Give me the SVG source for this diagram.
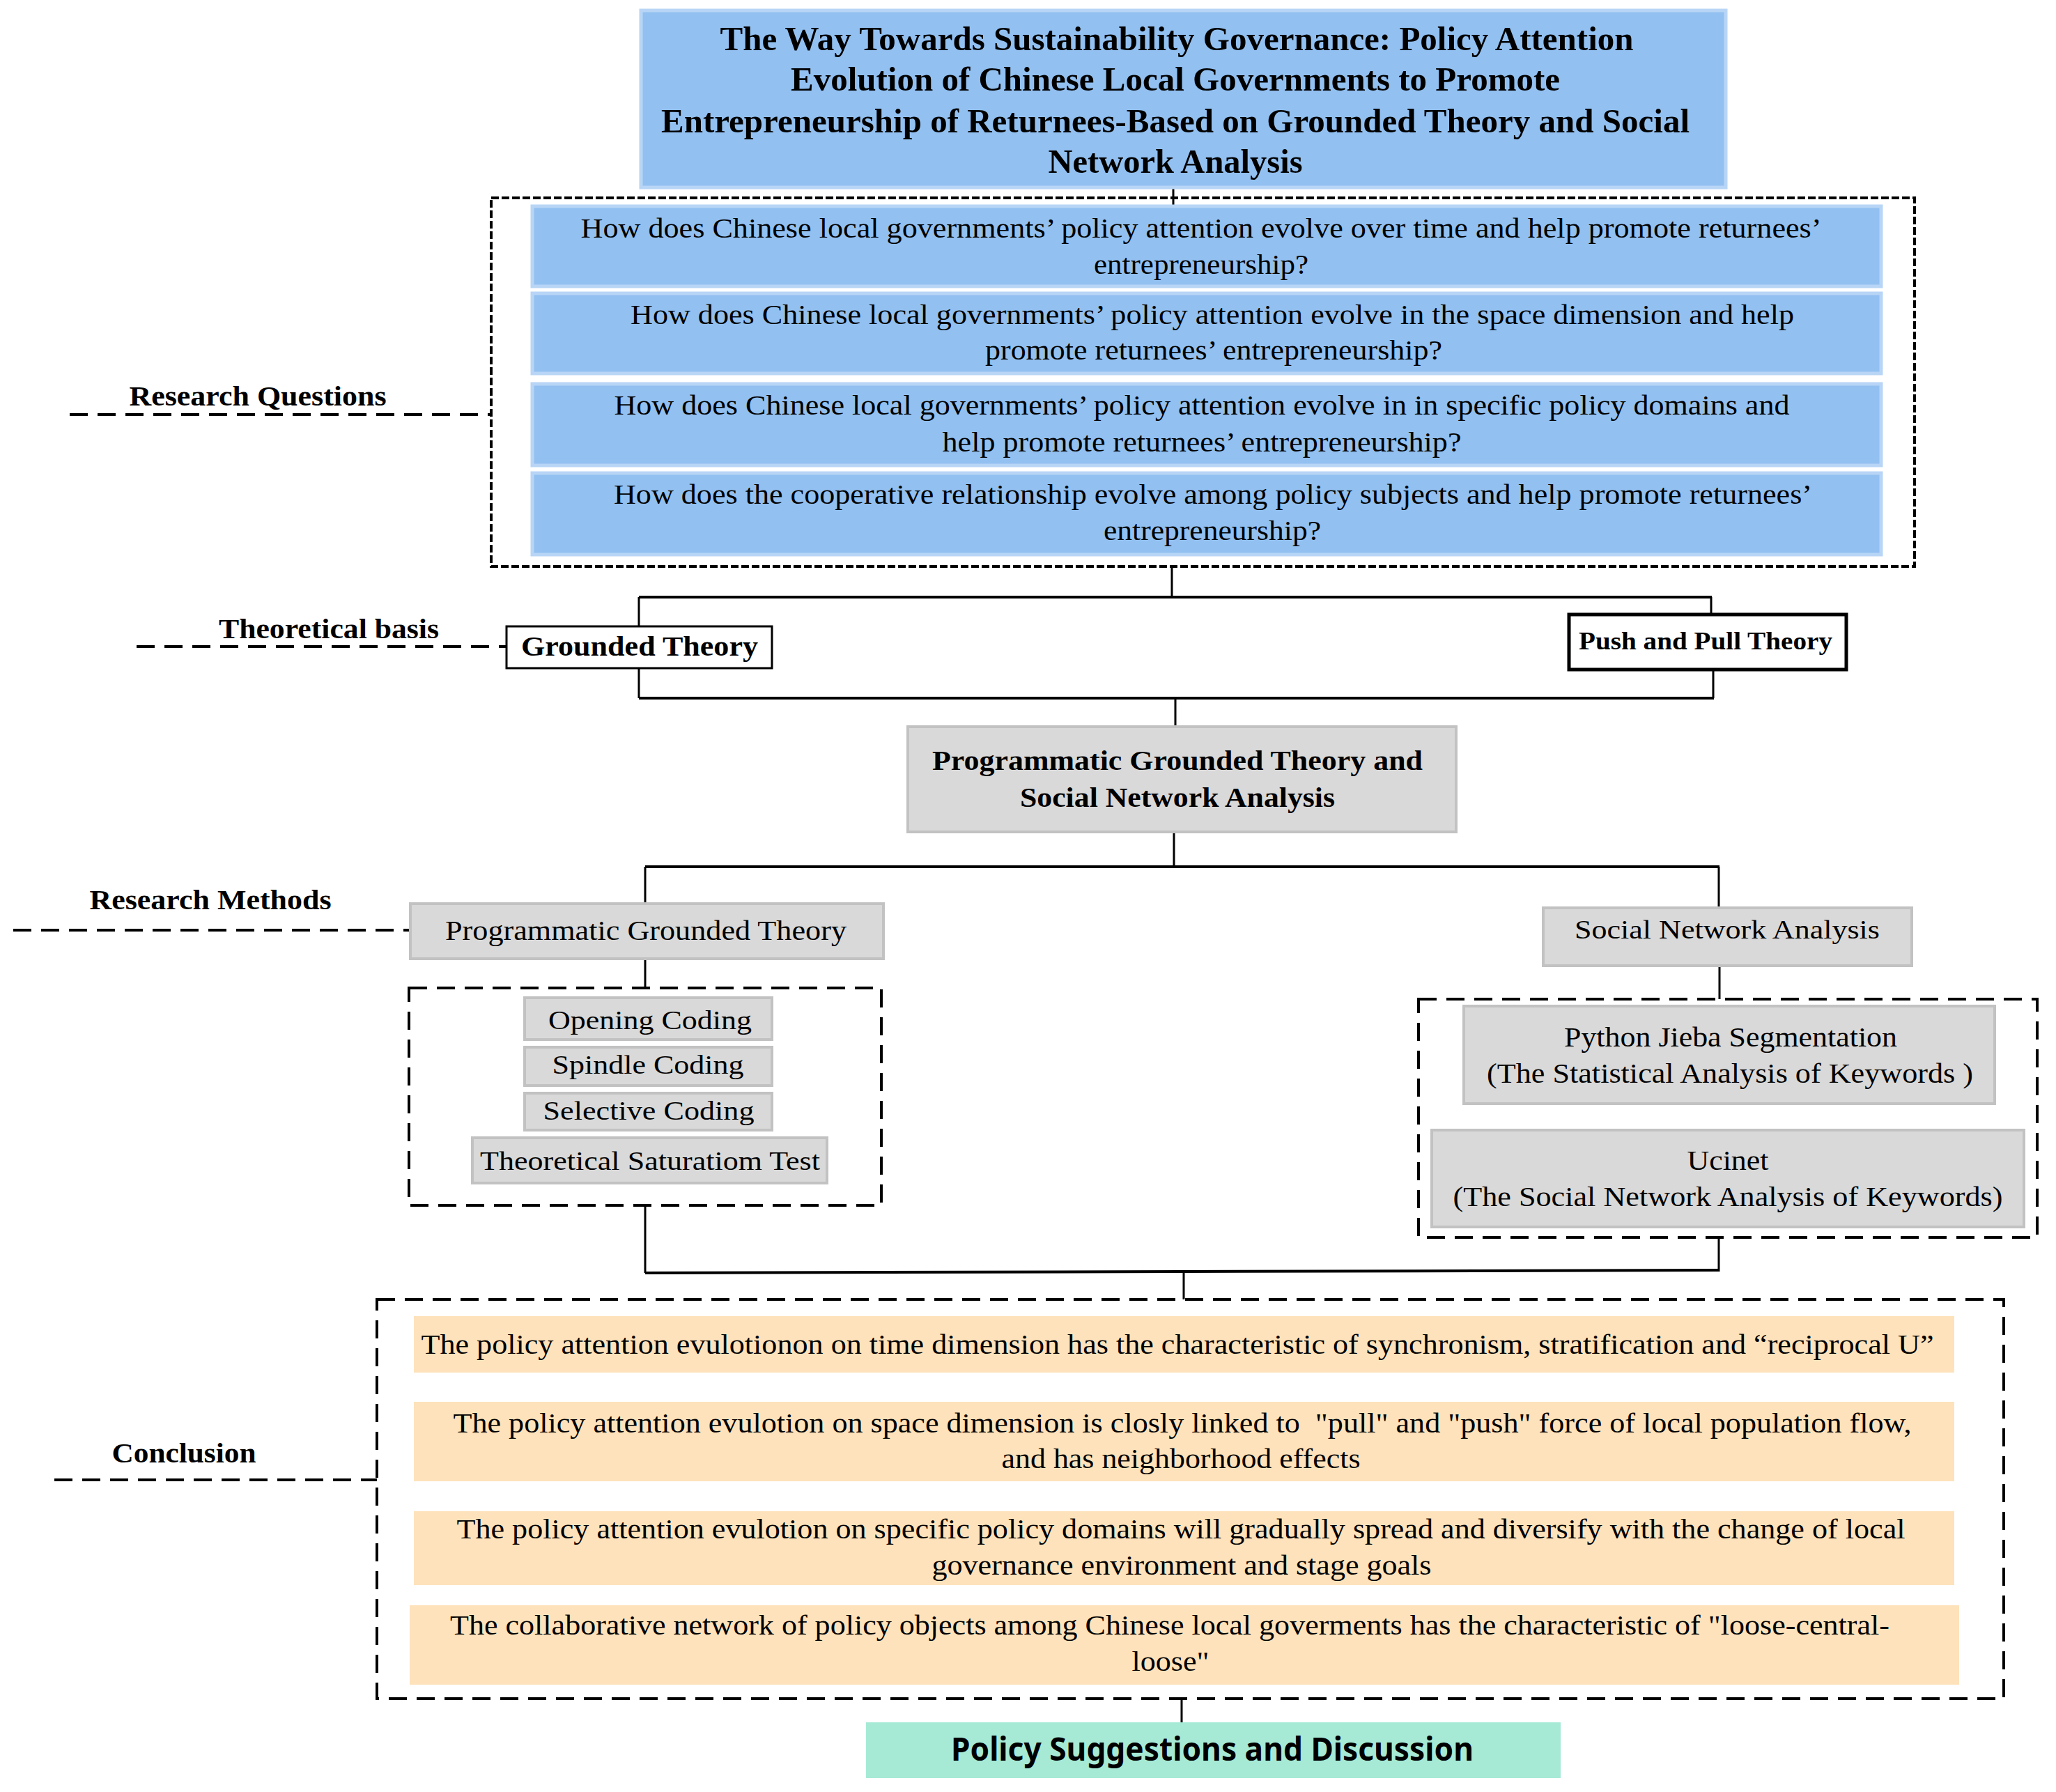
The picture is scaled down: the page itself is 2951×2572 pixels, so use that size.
<svg xmlns="http://www.w3.org/2000/svg" width="2951" height="2572" viewBox="0 0 2951 2572" font-family="'Liberation Serif', 'Times New Roman', serif">
<style>
  text { fill: #000; text-anchor: middle; }
  .b { font-weight: bold; }
  .t48 { font-size: 48px; }
  .t40 { font-size: 40px; }
  .t38 { font-size: 38px; }
  .t36 { font-size: 36px; }
  .t41 { font-size: 41px; }
  .sans { font-weight: bold; font-size: 46px; }
  .blue { fill: #92C0F1; stroke: #B8D5F6; stroke-width: 5; }
  .gray { fill: #D9D9D9; stroke: #C2C2C2; stroke-width: 4; }
  .white { fill: #FFFFFF; stroke: #000; }
  .peach { fill: #FEE2BB; }
  .green { fill: #A6EAD6; }
  .dbox { fill: none; stroke: #000; stroke-width: 4; stroke-dasharray: 26 14; }
  .dbox2 { fill: none; stroke: #000; stroke-width: 4; stroke-dasharray: 11 4; }
  .dline { fill: none; stroke: #000; stroke-width: 4; stroke-dasharray: 26 14; }
  .conn line { stroke: #000; stroke-width: 3; }
  .conn .h { stroke-width: 4; }
</style>

<g id="frames">
  <rect class="dbox2" x="705" y="284" width="2043" height="529"/>
  <rect class="dbox" x="587" y="1418" width="678" height="312"/>
  <rect class="dbox" x="2036" y="1434" width="888" height="342"/>
  <rect class="dbox" x="541" y="1865" width="2335" height="573"/>
</g>

<g id="labels">
  <g id="label-rq">
    <line class="dline" x1="100" y1="595" x2="705" y2="595"/>
    <text class="b t40" x="370" y="582" textLength="369" lengthAdjust="spacingAndGlyphs">Research Questions</text>
  </g>
  <g id="label-tb">
    <line class="dline" x1="196" y1="928" x2="727" y2="928"/>
    <text class="b t40" x="472" y="916" textLength="316" lengthAdjust="spacingAndGlyphs">Theoretical basis</text>
  </g>
  <g id="label-rm">
    <line class="dline" x1="19" y1="1335" x2="589" y2="1335"/>
    <text class="b t40" x="302" y="1305" textLength="347" lengthAdjust="spacingAndGlyphs">Research Methods</text>
  </g>
  <g id="label-c">
    <line class="dline" x1="78" y1="2124" x2="541" y2="2124"/>
    <text class="b t40" x="264" y="2099" textLength="207" lengthAdjust="spacingAndGlyphs">Conclusion</text>
  </g>
</g>

<g id="connectors" class="conn">
  <line x1="1684" y1="269" x2="1684" y2="296"/>
  <line x1="1682" y1="813" x2="1682" y2="857"/>
  <line class="h" x1="917" y1="857" x2="2457" y2="857"/>
  <line x1="917" y1="857" x2="917" y2="899"/>
  <line x1="2456" y1="857" x2="2456" y2="882"/>
  <line x1="917" y1="959" x2="917" y2="1002"/>
  <line x1="2459" y1="961" x2="2459" y2="1002"/>
  <line class="h" x1="917" y1="1002" x2="2460" y2="1002"/>
  <line x1="1687" y1="1002" x2="1687" y2="1043"/>
  <line x1="1685" y1="1194" x2="1685" y2="1244"/>
  <line class="h" x1="926" y1="1244" x2="2468" y2="1244"/>
  <line x1="926" y1="1244" x2="926" y2="1297"/>
  <line x1="2467" y1="1244" x2="2467" y2="1303"/>
  <line x1="926" y1="1376" x2="926" y2="1418"/>
  <line x1="2468" y1="1386" x2="2468" y2="1434"/>
  <line x1="926" y1="1730" x2="926" y2="1827"/>
  <line x1="2467" y1="1776" x2="2467" y2="1825"/>
  <line class="h" x1="926" y1="1827" x2="2468" y2="1823"/>
  <line x1="1699" y1="1826" x2="1699" y2="1865"/>
  <line x1="1696" y1="2438" x2="1696" y2="2472"/>
</g>

<g id="title">
  <rect class="blue" x="920" y="15" width="1557" height="254"/>
  <text class="b t48" x="1689" y="72" textLength="1311" lengthAdjust="spacingAndGlyphs">The Way Towards Sustainability Governance: Policy Attention</text>
  <text class="b t48" x="1687" y="130" textLength="1104" lengthAdjust="spacingAndGlyphs">Evolution of Chinese Local Governments to Promote</text>
  <text class="b t48" x="1687" y="190" textLength="1476" lengthAdjust="spacingAndGlyphs">Entrepreneurship of Returnees-Based on Grounded Theory and Social</text>
  <text class="b t48" x="1687" y="248" textLength="365" lengthAdjust="spacingAndGlyphs">Network Analysis</text>
</g>

<g id="q1">
  <rect class="blue" x="764" y="296" width="1936" height="115"/>
  <text class="t41" x="1724" y="341" textLength="1781" lengthAdjust="spacingAndGlyphs">How does Chinese local governments’ policy attention evolve over time and help promote returnees’</text>
  <text class="t41" x="1724" y="393" textLength="308" lengthAdjust="spacingAndGlyphs">entrepreneurship?</text>
</g>
<g id="q2">
  <rect class="blue" x="764" y="421" width="1936" height="115"/>
  <text class="t41" x="1740" y="465" textLength="1670" lengthAdjust="spacingAndGlyphs">How does Chinese local governments’ policy attention evolve in the space dimension and help</text>
  <text class="t41" x="1742" y="516" textLength="656" lengthAdjust="spacingAndGlyphs">promote returnees’ entrepreneurship?</text>
</g>
<g id="q3">
  <rect class="blue" x="764" y="551" width="1936" height="117"/>
  <text class="t41" x="1725" y="595" textLength="1687" lengthAdjust="spacingAndGlyphs">How does Chinese local governments’ policy attention evolve in in specific policy domains and</text>
  <text class="t41" x="1725" y="648" textLength="745" lengthAdjust="spacingAndGlyphs">help promote returnees’ entrepreneurship?</text>
</g>
<g id="q4">
  <rect class="blue" x="764" y="679" width="1936" height="117"/>
  <text class="t41" x="1741" y="723" textLength="1720" lengthAdjust="spacingAndGlyphs">How does the cooperative relationship evolve among policy subjects and help promote returnees’</text>
  <text class="t41" x="1740" y="775" textLength="312" lengthAdjust="spacingAndGlyphs">entrepreneurship?</text>
</g>

<g id="grounded-theory">
  <rect class="white" stroke-width="3" x="727" y="899" width="381" height="60"/>
  <text class="b t40" x="918" y="941" textLength="340" lengthAdjust="spacingAndGlyphs">Grounded Theory</text>
</g>
<g id="push-pull">
  <rect class="white" stroke-width="5" x="2252" y="882" width="398" height="79"/>
  <text class="b t36" x="2448" y="932" textLength="364" lengthAdjust="spacingAndGlyphs">Push and Pull Theory</text>
</g>

<g id="pgt-sna">
  <rect class="gray" x="1303" y="1043" width="787" height="151"/>
  <text class="b t40" x="1690" y="1105" textLength="704" lengthAdjust="spacingAndGlyphs">Programmatic Grounded Theory and</text>
  <text class="b t40" x="1690" y="1158" textLength="452" lengthAdjust="spacingAndGlyphs">Social Network Analysis</text>
</g>

<g id="pgt">
  <rect class="gray" x="589" y="1297" width="679" height="79"/>
  <text class="t40" x="927" y="1349" textLength="576" lengthAdjust="spacingAndGlyphs">Programmatic Grounded Theory</text>
</g>
<g id="opening">
  <rect class="gray" x="753" y="1432" width="355" height="60"/>
  <text class="t38" x="933" y="1477" textLength="292" lengthAdjust="spacingAndGlyphs">Opening Coding</text>
</g>
<g id="spindle">
  <rect class="gray" x="753" y="1503" width="355" height="55"/>
  <text class="t38" x="930" y="1541" textLength="275" lengthAdjust="spacingAndGlyphs">Spindle Coding</text>
</g>
<g id="selective">
  <rect class="gray" x="753" y="1569" width="355" height="53"/>
  <text class="t38" x="931" y="1607" textLength="303" lengthAdjust="spacingAndGlyphs">Selective Coding</text>
</g>
<g id="saturation">
  <rect class="gray" x="678" y="1633" width="509" height="65"/>
  <text class="t38" x="933" y="1679" textLength="488" lengthAdjust="spacingAndGlyphs">Theoretical Saturatiom Test</text>
</g>

<g id="sna">
  <rect class="gray" x="2215" y="1303" width="529" height="83"/>
  <text class="t38" x="2479" y="1347" textLength="438" lengthAdjust="spacingAndGlyphs">Social Network Analysis</text>
</g>
<g id="python">
  <rect class="gray" x="2101" y="1444" width="762" height="140"/>
  <text class="t40" x="2484" y="1502" textLength="478" lengthAdjust="spacingAndGlyphs">Python Jieba Segmentation</text>
  <text class="t40" x="2483" y="1554" textLength="698" lengthAdjust="spacingAndGlyphs">(The Statistical Analysis of Keywords )</text>
</g>
<g id="ucinet">
  <rect class="gray" x="2055" y="1622" width="850" height="139"/>
  <text class="t40" x="2480" y="1679" textLength="117" lengthAdjust="spacingAndGlyphs">Ucinet</text>
  <text class="t40" x="2480" y="1731" textLength="789" lengthAdjust="spacingAndGlyphs">(The Social Network Analysis of Keywords)</text>
</g>

<g id="c1">
  <rect class="peach" x="594" y="1889" width="2211" height="81"/>
  <text class="t41" x="1690" y="1943" textLength="2171" lengthAdjust="spacingAndGlyphs">The policy attention evulotionon on time dimension has the characteristic of synchronism, stratification and “reciprocal U”</text>
</g>
<g id="c2">
  <rect class="peach" x="594" y="2012" width="2211" height="114"/>
  <text class="t41" x="1697" y="2056" textLength="2093" lengthAdjust="spacingAndGlyphs" xml:space="preserve">The policy attention evulotion on space dimension is closly linked to  "pull" and "push" force of local population flow,</text>
  <text class="t41" x="1695" y="2107" textLength="515" lengthAdjust="spacingAndGlyphs">and has neighborhood effects</text>
</g>
<g id="c3">
  <rect class="peach" x="594" y="2169" width="2211" height="106"/>
  <text class="t41" x="1695" y="2208" textLength="2079" lengthAdjust="spacingAndGlyphs">The policy attention evulotion on specific policy domains will gradually spread and diversify with the change of local</text>
  <text class="t41" x="1696" y="2260" textLength="717" lengthAdjust="spacingAndGlyphs">governance environment and stage goals</text>
</g>
<g id="c4">
  <rect class="peach" x="588" y="2304" width="2224" height="114"/>
  <text class="t41" x="1679" y="2346" textLength="2066" lengthAdjust="spacingAndGlyphs">The collaborative network of policy objects among Chinese local goverments has the characteristic of "loose-central-</text>
  <text class="t41" x="1680" y="2398" textLength="111" lengthAdjust="spacingAndGlyphs">loose"</text>
</g>

<g id="policy">
  <rect class="green" x="1243" y="2472" width="997" height="80"/>
  <text class="sans" font-family="'Noto Sans', 'Open Sans', sans-serif" x="1740" y="2527" textLength="750" lengthAdjust="spacingAndGlyphs">Policy Suggestions and Discussion</text>
</g>
</svg>
